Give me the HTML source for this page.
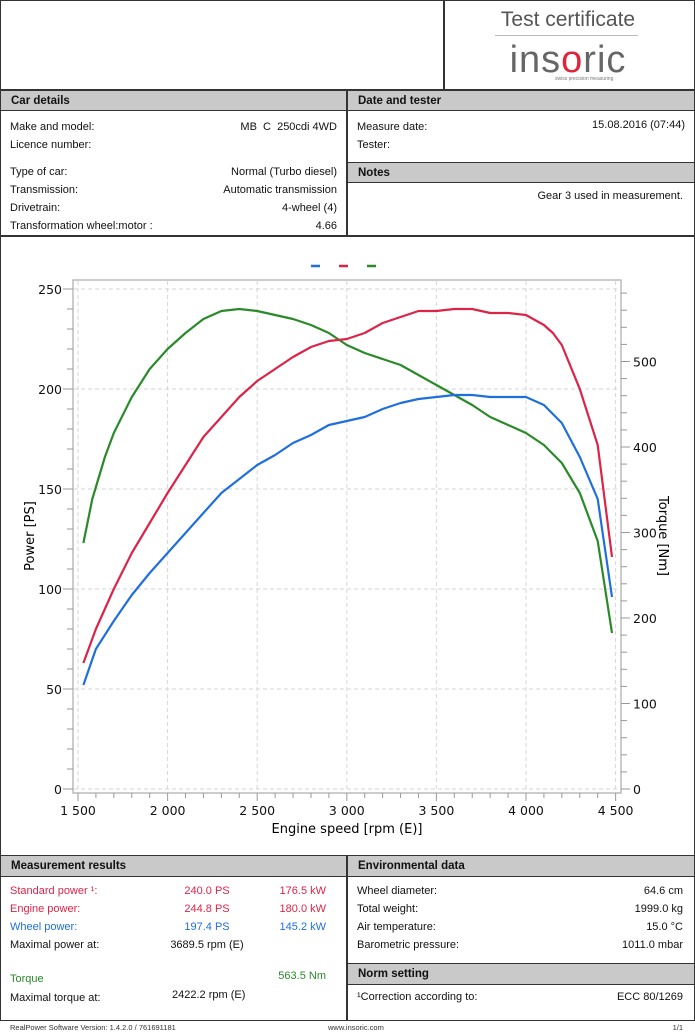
<!DOCTYPE html>
<html><head><meta charset="utf-8"><style>
body{margin:0;width:695px;height:1034px;background:#fff;font-family:"Liberation Sans","DejaVu Sans",sans-serif;font-size:11px;color:#111;position:relative;overflow:hidden}
.a{position:absolute}
.bx{position:absolute;border:1px solid #333;box-sizing:border-box}
.hd{position:absolute;background:#c9c9c9;font-weight:bold;font-size:11.5px;padding-left:10px;line-height:20px;box-sizing:border-box;border-bottom:1px solid #333}
.r{text-align:right}
</style></head><body>
<div class="bx" style="left:0;top:0;width:695px;height:1021px;border-width:1.5px"></div>
<div class="a" style="left:443px;top:0;width:1.5px;height:90px;background:#333"></div>
<div class="a" style="left:0;top:89px;width:695px;height:1.5px;background:#333"></div>
<div class="a" style="left:473px;top:8px;width:190px;text-align:center;font-size:21px;color:#555;font-family:'Liberation Sans',sans-serif">Test certificate</div>
<div class="a" style="left:495px;top:35px;width:143px;height:1px;background:#bbb"></div>
<div class="a" style="left:473px;top:38px;width:190px;text-align:center;font-size:38px;color:#666;font-family:'Liberation Sans',sans-serif;letter-spacing:1px;line-height:44px">ins<span style="color:#e0243a">o</span>ric</div>
<div class="a" style="left:555px;top:76px;font-size:5px;color:#777">swiss precision measuring</div>

<div class="hd" style="left:1px;top:91px;width:346px;height:20px">Car details</div>
<div class="hd" style="left:348px;top:91px;width:346px;height:20px">Date and tester</div>
<div class="a" style="left:346px;top:90px;width:1.5px;height:146px;background:#333"></div>
<div class="a" style="left:10px;top:119px;line-height:17.5px">Make and model:<br>Licence number:</div>
<div class="a r" style="right:358px;top:119px;line-height:17.5px">MB&nbsp; C&nbsp; 250cdi 4WD</div>
<div class="a" style="left:10px;top:163px;line-height:18px">Type of car:<br>Transmission:<br>Drivetrain:<br>Transformation wheel:motor :</div>
<div class="a r" style="right:358px;top:163px;line-height:18px">Normal (Turbo diesel)<br>Automatic transmission<br>4-wheel (4)<br>4.66</div>
<div class="a" style="left:357px;top:119px;line-height:17.5px">Measure date:<br>Tester:</div>
<div class="a r" style="right:10px;top:119px">15.08.2016 (07:44)</div>
<div class="a" style="left:347px;top:162px;width:348px;height:1px;background:#333"></div>
<div class="hd" style="left:348px;top:163px;width:346px;height:20px">Notes</div>
<div class="a r" style="right:12px;top:190px">Gear 3 used in measurement.</div>
<div class="a" style="left:0;top:235px;width:695px;height:1.5px;background:#333"></div>

<svg class="a" style="left:0;top:0" width="695" height="860" font-family="DejaVu Sans,Liberation Sans,sans-serif" font-size="12.5">
<g stroke="#d6d6d6" stroke-dasharray="4,3" stroke-width="1" id="grid"></g>
<rect x="73" y="280" width="548" height="513" fill="none" stroke="#aaa" stroke-width="1.2"/>
<g id="ticks" stroke="#999"></g>
<g id="lbl" fill="#111"></g>
<g fill="none" stroke-width="2.2" stroke-linejoin="round">
<path id="pg" stroke="#2a8a2a"/><path id="pr" stroke="#dc2448"/><path id="pb" stroke="#1f6fdc"/></g>
<line x1="311" y1="266" x2="320" y2="266" stroke="#1f6fdc" stroke-width="2.5"/>
<line x1="339" y1="266" x2="348" y2="266" stroke="#dc2448" stroke-width="2.5"/>
<line x1="367" y1="266" x2="376" y2="266" stroke="#2a8a2a" stroke-width="2.5"/>
<text x="347" y="833" text-anchor="middle" font-size="13">Engine speed [rpm (E)]</text>
<text transform="translate(34,536) rotate(-90)" text-anchor="middle" font-size="13">Power [PS]</text>
<text transform="translate(659,536) rotate(90)" text-anchor="middle" font-size="13">Torque [Nm]</text>
</svg>
<script>
var X=r=>78+(r-1500)*0.1792,Y=p=>789-2*p,NS="http://www.w3.org/2000/svg";
function el(p,t,a,txt){var e=document.createElementNS(NS,t);for(var k in a)e.setAttribute(k,a[k]);if(txt!==undefined)e.textContent=String(txt);document.getElementById(p).appendChild(e);}
for(var r=1500;r<=4500;r+=500){var x=X(r);el('grid','line',{x1:x,y1:281,x2:x,y2:792});el('lbl','text',{x:x,y:815,'text-anchor':'middle'},r.toString().replace(/(\d)(\d{3})$/,'$1 $2'));}
for(var p=0;p<=250;p+=50){var y=Y(p);el('grid','line',{x1:74,y1:y,x2:620,y2:y});el('lbl','text',{x:62,y:y+5,'text-anchor':'end'},p);}
for(var p=0;p<=250;p+=10){var y=Y(p);el('ticks','line',{x1:p%50?67:63,y1:y,x2:73,y2:y});}
for(var r=1500;r<=4500;r+=100){var x=X(r);el('ticks','line',{x1:x,y1:793,x2:x,y2:r%500?798:801});}
for(var n=0;n<=580;n+=20){var y=789-n*0.855;if(y<281)break;el('ticks','line',{x1:621,y1:y,x2:n%100?627:630,y2:y});if(n%100==0)el('lbl','text',{x:633,y:y+5},n);}
function path(id,d){var s='';d.forEach((q,i)=>{s+=(i?'L':'M')+X(q[0]).toFixed(1)+','+Y(q[1]).toFixed(1)});document.getElementById(id).setAttribute('d',s);}
path('pr',[[1530,63],[1600,80],[1700,100],[1800,118],[1900,133],[2000,148],[2100,162],[2200,176],[2300,186],[2400,196],[2500,204],[2600,210],[2700,216],[2800,221],[2900,224],[3000,225],[3100,228],[3200,233],[3300,236],[3400,239],[3500,239],[3600,240],[3700,240],[3800,238],[3900,238],[4000,237],[4100,232],[4150,228],[4200,222],[4300,200],[4400,172],[4480,116]]);
path('pb',[[1530,52],[1600,70],[1700,84],[1800,97],[1900,108],[2000,118],[2100,128],[2200,138],[2300,148],[2400,155],[2500,162],[2600,167],[2700,173],[2800,177],[2900,182],[3000,184],[3100,186],[3200,190],[3300,193],[3400,195],[3500,196],[3600,197],[3700,197],[3800,196],[3900,196],[4000,196],[4100,192],[4200,183],[4300,166],[4400,145],[4480,96]]);
path('pg',[[1530,123],[1580,145],[1650,166],[1700,178],[1800,196],[1900,210],[2000,220],[2100,228],[2200,235],[2300,239],[2400,240],[2500,239],[2600,237],[2700,235],[2800,232],[2900,228],[2950,225],[3000,222],[3100,218],[3200,215],[3300,212],[3400,207],[3500,202],[3600,197],[3700,192],[3800,186],[3900,182],[4000,178],[4100,172],[4200,163],[4300,148],[4400,124],[4480,78]]);
</script>

<div class="a" style="left:0;top:855px;width:695px;height:1.5px;background:#333"></div>
<div class="hd" style="left:1px;top:856px;width:346px;height:21px">Measurement results</div>
<div class="hd" style="left:348px;top:856px;width:346px;height:21px">Environmental data</div>
<div class="a" style="left:346px;top:855px;width:1.5px;height:166px;background:#333"></div>
<div class="a" style="left:10px;top:882px;line-height:18px"><span style="color:#dc2448">Standard power ¹:</span><br><span style="color:#dc2448">Engine power:</span><br><span style="color:#1f6fdc">Wheel power:</span><br>Maximal power at:</div>
<div class="a" style="left:165px;top:882px;line-height:18px;width:84px;text-align:center"><span style="color:#dc2448">240.0 PS</span><br><span style="color:#dc2448">244.8 PS</span><br><span style="color:#1f6fdc">197.4 PS</span><br>3689.5 rpm (E)</div>
<div class="a r" style="right:369px;top:882px;line-height:18px"><span style="color:#dc2448">176.5 kW</span><br><span style="color:#dc2448">180.0 kW</span><br><span style="color:#1f6fdc">145.2 kW</span></div>
<div class="a" style="left:10px;top:970px;line-height:19px"><span style="color:#2a8a2a">Torque</span><br>Maximal torque at:</div>
<div class="a r" style="right:369px;top:970px;color:#2a8a2a">563.5 Nm</div>
<div class="a" style="left:172px;top:989px">2422.2 rpm (E)</div>
<div class="a" style="left:357px;top:882px;line-height:18px">Wheel diameter:<br>Total weight:<br>Air temperature:<br>Barometric pressure:</div>
<div class="a r" style="right:12px;top:882px;line-height:18px">64.6 cm<br>1999.0 kg<br>15.0 °C<br>1011.0 mbar</div>
<div class="a" style="left:347px;top:963px;width:348px;height:1px;background:#333"></div>
<div class="hd" style="left:348px;top:964px;width:346px;height:21px">Norm setting</div>
<div class="a" style="left:357px;top:991px">¹Correction according to:</div>
<div class="a r" style="right:12px;top:991px">ECC 80/1269</div>
<div class="a" style="left:10px;top:1023px;font-size:7.5px;color:#333">RealPower Software Version: 1.4.2.0 / 761691181</div>
<div class="a" style="left:328px;top:1023px;font-size:7.5px;color:#333">www.insoric.com</div>
<div class="a" style="right:12px;top:1023px;font-size:7.5px;color:#333">1/1</div>
</body></html>
